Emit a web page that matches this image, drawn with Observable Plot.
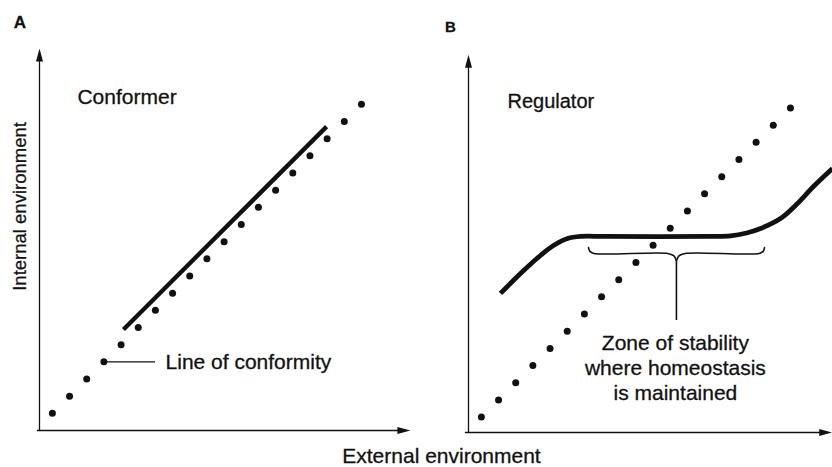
<!DOCTYPE html>
<html><head><meta charset="utf-8">
<script src="https://cdn.jsdelivr.net/npm/d3@7"></script>
<script src="https://cdn.jsdelivr.net/npm/@observablehq/plot@0.6"></script>
<style>
html,body{margin:0;padding:0;background:#fff;}
#chart{position:relative;width:832px;height:467px;overflow:hidden;}
#chart svg{position:absolute;left:0;top:0;}
</style></head><body><div id="chart"></div>
<script>
// ---- Panel A: Conformer (units: external / internal environment) ----
const conformerDotExternal = [0.75,1.75,2.75,3.75,4.75,5.75,6.75,7.75,8.75,9.75,10.75,11.75,12.75,13.75,14.75,15.75,16.75,17.75,18.75];
const conformerDotInternal = [1,2,3,4,5,6,7,8,9,10,11,12,13,14,15,16,17,18,19];
const conformerLineExternal = [4.89, 16.72];
const conformerLineInternal = [5.88, 17.7];

// ---- Panel B: Regulator ----
const regulatorDotExternal = [0.75,1.75,2.75,3.75,4.75,5.75,6.75,7.75,8.75,9.75,10.75,11.75,12.75,13.75,14.75,15.75,16.75,17.75,18.75];
const regulatorDotInternal = [0.9,1.9,2.9,3.9,4.9,5.9,6.9,7.9,8.9,9.9,10.9,11.9,12.9,13.9,14.9,15.9,16.9,17.9,18.9];
const regulatorCurveExternal = [1.86,3.03,4.19,4.95,5.77,6.52,8,14,15.26,16.2,17.01,18.17,19.16,20.09,21.2];
const regulatorCurveInternal = [8.10,9.26,10.31,10.89,11.30,11.42,11.42,11.42,11.45,11.62,11.88,12.46,13.34,14.33,15.38];
const braceLeftExternal = [6.99,7.07,7.3,11.6,11.95,12.11];
const braceLeftInternal = [10.77,10.55,10.43,10.43,10.3,10.02];
const braceRightExternal = [12.11,12.27,12.62,16.93,17.16,17.24];
const braceRightInternal = [10.02,10.3,10.43,10.43,10.55,10.77];

// ---- Labels ----
const panelLabels = ["A", "B"];
const panelTitles = ["Conformer", "Regulator"];
const xLabel = "External environment";
const yLabel = "Internal environment";
const conformityLabel = "Line of conformity";
const zoneLabel = "Zone of stability\nwhere homeostasis\nis maintained";

const FONT = "'Liberation Sans', Arial, Helvetica, sans-serif";
const INK = "#111";
const zip = (xs, ys) => xs.map((x, i) => ({x, y: ys[i]}));
const txt = {fill: INK, stroke: INK, strokeWidth: 0.3};

const plotA = Plot.plot({
  width: 832, height: 467,
  style: {background: "transparent", fontFamily: FONT, color: INK, overflow: "visible"},
  x: {domain: [0, 21.6], range: [39, 409.9], axis: null},
  y: {domain: [0, 22.25], range: [430, 48], axis: null},
  marks: [
    Plot.ruleY([0], {x1: -0.12, x2: 21.0, stroke: INK, strokeWidth: 1.3}),
    Plot.vector([0], {x: 21.6, y: 0, rotate: 90, length: 13, r: 3.5, shape: "spike", anchor: "end", fill: INK, stroke: "none"}),
    Plot.ruleX([0], {y1: 0, y2: 21.5, stroke: INK, strokeWidth: 1.3}),
    Plot.vector([0], {x: 0, y: 22.25, rotate: 0, length: 13, r: 3.5, shape: "spike", anchor: "end", fill: INK, stroke: "none"}),
    Plot.line(zip(conformerLineExternal, conformerLineInternal), {x: "x", y: "y", stroke: INK, strokeWidth: 4.3, strokeLinecap: "butt"}),
    Plot.dot(zip(conformerDotExternal, conformerDotInternal), {x: "x", y: "y", r: 3.5, fill: INK, stroke: "none"}),
    Plot.ruleY([4.0], {x1: 3.75, x2: 6.76, stroke: INK, strokeWidth: 1.3}),
    Plot.text([conformityLabel], {x: 7.34, y: 3.95, text: d => d, textAnchor: "start", fontSize: 21, ...txt}),
    Plot.text([panelTitles[0]], {x: 2.21, y: 19.39, text: d => d, textAnchor: "start", fontSize: 21, ...txt}),
    Plot.text([panelLabels[0]], {x: -1.14, y: 23.79, text: d => d, fontSize: 17, fontWeight: "bold", ...txt}),
    Plot.text([yLabel], {x: -1.16, y: 13.05, text: d => d, rotate: -90, fontSize: 18.5, ...txt}),
    Plot.text([xLabel], {x: 23.41, y: -1.51, text: d => d, fontSize: 21, ...txt})
  ]
});

const plotB = Plot.plot({
  width: 832, height: 467,
  style: {background: "transparent", fontFamily: FONT, color: INK, overflow: "visible"},
  x: {domain: [0, 21.2], range: [468, 832], axis: null},
  y: {domain: [0, 22.0], range: [432, 54.3], axis: null},
  marks: [
    Plot.ruleY([0], {x1: -0.18, x2: 20.5, stroke: INK, strokeWidth: 1.3}),
    Plot.vector([0], {x: 21.18, y: 0, rotate: 90, length: 13, r: 3.5, shape: "spike", anchor: "end", fill: INK, stroke: "none"}),
    Plot.ruleX([0], {y1: 0, y2: 21.3, stroke: INK, strokeWidth: 1.3}),
    Plot.vector([0], {x: 0, y: 22.0, rotate: 0, length: 13, r: 3.5, shape: "spike", anchor: "end", fill: INK, stroke: "none"}),
    Plot.line(zip(regulatorCurveExternal, regulatorCurveInternal), {x: "x", y: "y", curve: "catmull-rom", stroke: INK, strokeWidth: 4.8, strokeLinecap: "butt"}),
    Plot.dot(zip(regulatorDotExternal, regulatorDotInternal), {x: "x", y: "y", r: 3.5, fill: INK, stroke: "none"}),
    Plot.line(zip(braceLeftExternal, braceLeftInternal), {x: "x", y: "y", curve: "catmull-rom", stroke: INK, strokeWidth: 1.6}),
    Plot.line(zip(braceRightExternal, braceRightInternal), {x: "x", y: "y", curve: "catmull-rom", stroke: INK, strokeWidth: 1.6}),
    Plot.ruleX([12.11], {y1: 6.52, y2: 10.02, stroke: INK, strokeWidth: 1.6}),
    Plot.text([zoneLabel], {x: 12.05, y: 3.8, text: d => d, fontSize: 21, lineHeight: 1.19, ...txt}),
    Plot.text([panelTitles[1]], {x: 2.27, y: 19.26, text: d => d, textAnchor: "start", fontSize: 20, ...txt}),
    Plot.text([panelLabels[1]], {x: -1.05, y: 23.59, text: d => d, fontSize: 15, fontWeight: "bold", ...txt})
  ]
});

document.getElementById("chart").append(plotA, plotB);
</script></body></html>
